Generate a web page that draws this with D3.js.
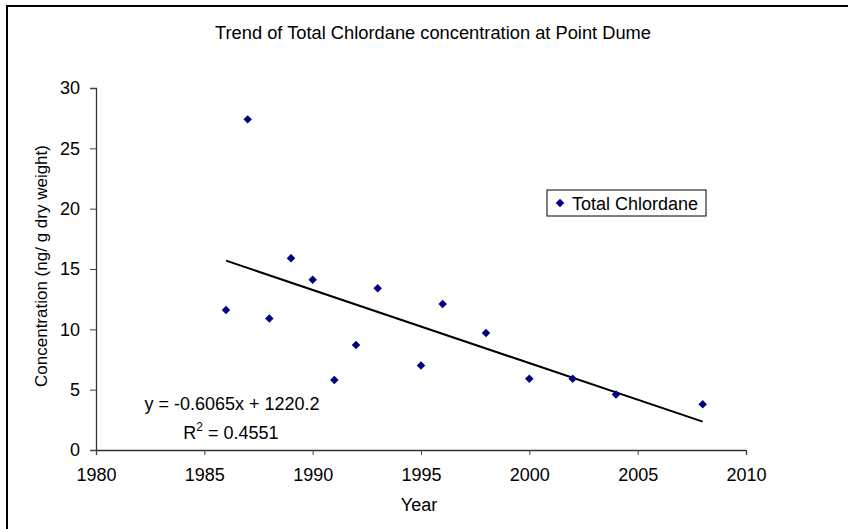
<!DOCTYPE html>
<html>
<head>
<meta charset="utf-8">
<script src="https://cdn.jsdelivr.net/npm/d3@7"></script>
<style>
  body { margin: 0; background: #fff; }
  text { font-family: "Liberation Sans", Arial, sans-serif; fill: #000; }
</style>
</head>
<body>
<script>
let width = 848;
let height = 529;

// data
let years = [1986, 1987, 1988, 1989, 1990, 1991, 1992, 1993, 1995, 1996, 1998, 2000, 2002, 2004, 2008];
let chlordane = [11.6, 27.4, 10.9, 15.9, 14.1, 5.8, 8.7, 13.4, 7.0, 12.1, 9.7, 5.9, 5.9, 4.6, 3.8];
let trendSlope = -0.6065;
let trendIntercept = 1220.2;
let rSquared = 0.4551;
let xTicks = [1980, 1985, 1990, 1995, 2000, 2005, 2010];
let yTicks = [0, 5, 10, 15, 20, 25, 30];

let svg = d3.select("body").append("svg")
    .attr("width", width)
    .attr("height", height);

// outer chart border (only top and left visible)
svg.append("path")
    .attr("d", "M7,529V6H848")
    .attr("fill", "none")
    .attr("stroke", "#000")
    .attr("stroke-width", 2);

let x = d3.scaleLinear().domain([1980, 2010]).range([96, 746]);
let y = d3.scaleLinear().domain([0, 30]).range([450, 88]);

// title
svg.append("text")
    .attr("x", 433)
    .attr("y", 39)
    .attr("text-anchor", "middle")
    .style("font-size", "18.3px")
    .text("Trend of Total Chlordane concentration at Point Dume");

// axes
let xAxis = svg.append("g")
    .attr("transform", "translate(0,450)")
    .call(d3.axisBottom(x).tickValues(xTicks).tickFormat(d3.format("d")).tickSize(5).tickPadding(14));
let yAxis = svg.append("g")
    .attr("transform", "translate(96,0)")
    .call(d3.axisLeft(y).tickValues(yTicks).tickSize(6).tickPadding(10));

[xAxis, yAxis].forEach(function (ax) {
    ax.select(".domain").attr("stroke", "#333").attr("stroke-width", 1.3);
    ax.selectAll(".tick line").attr("stroke", "#444");
    ax.selectAll(".tick text").style("font-size", "18px").attr("fill", "#000");
});
xAxis.selectAll(".tick text").attr("dy", "0.71em").attr("y", 18);

// axis titles
svg.append("text")
    .attr("x", 419)
    .attr("y", 511)
    .attr("text-anchor", "middle")
    .style("font-size", "18px")
    .text("Year");

svg.append("text")
    .attr("transform", "translate(47,266) rotate(-90)")
    .attr("text-anchor", "middle")
    .style("font-size", "17px")
    .text("Concentration (ng/ g dry weight)");

// trend line
let trendYears = [d3.min(years), d3.max(years)];
svg.append("line")
    .attr("x1", x(trendYears[0]))
    .attr("y1", y(trendSlope * trendYears[0] + trendIntercept))
    .attr("x2", x(trendYears[1]))
    .attr("y2", y(trendSlope * trendYears[1] + trendIntercept))
    .attr("stroke", "#000")
    .attr("stroke-width", 2);

// points
let diamond = d3.symbol().type(d3.symbolSquare).size(36);
svg.append("g").selectAll("path")
    .data(years)
    .enter()
    .append("path")
    .attr("d", diamond)
    .attr("transform", function (d, i) {
        return "translate(" + x(d) + "," + y(chlordane[i]) + ") rotate(45)";
    })
    .attr("fill", "#000080");

// equation
let eq = svg.append("g").attr("text-anchor", "middle").style("font-size", "18px");
eq.append("text")
    .attr("x", 232)
    .attr("y", 410)
    .text("y = " + trendSlope + "x + " + trendIntercept);
let r2 = eq.append("text")
    .attr("x", 231)
    .attr("y", 439);
r2.append("tspan").text("R");
r2.append("tspan").attr("dy", -8).style("font-size", "12px").text("2");
r2.append("tspan").attr("dy", 8).text(" = " + rSquared);

// legend
let legend = svg.append("g").attr("transform", "translate(547,190)");
legend.append("rect")
    .attr("width", 159)
    .attr("height", 26)
    .attr("fill", "#fff")
    .attr("stroke", "#000")
    .attr("stroke-width", 1);
legend.append("path")
    .attr("d", diamond)
    .attr("transform", "translate(13,13) rotate(45)")
    .attr("fill", "#000080");
legend.append("text")
    .attr("x", 25)
    .attr("y", 20)
    .style("font-size", "18px")
    .text("Total Chlordane");
</script>
</body>
</html>
